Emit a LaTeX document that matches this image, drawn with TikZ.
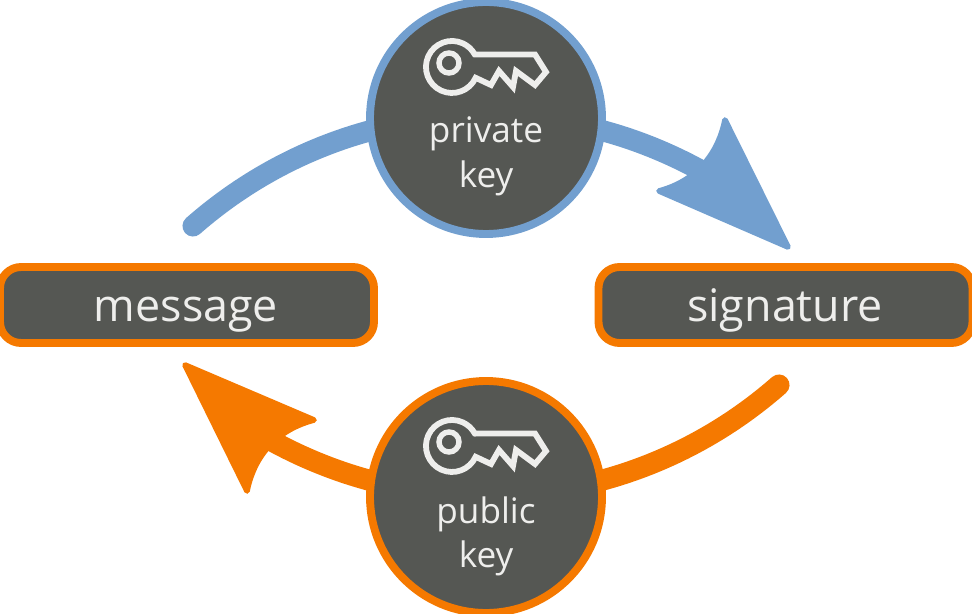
\documentclass[tikz,border=0pt]{standalone}
\usepackage{fontspec}
\setmainfont{Open Sans}
\usetikzlibrary{calc}
\definecolor{keyblue}{HTML}{729FCF}
\definecolor{keyorange}{HTML}{F57900}
\definecolor{slab}{HTML}{555753}
\definecolor{paper}{HTML}{EEEEEC}
\tikzset{
	x=0.02cm, y=-0.02cm,
	keydisc/.style={circle, fill=slab, line width=4.5pt, minimum size=232*0.02cm, inner sep=0pt},
	msgbox/.style={rectangle, rounded corners=12pt, fill=slab, draw=keyorange, line width=4.5pt, minimum width=374*0.02cm, minimum height=76*0.02cm, inner sep=0pt},
	msgtext/.style={text=paper, font=\fontsize{25.5}{25.5}\selectfont, inner sep=0pt, anchor=base},
	keytext/.style={text=paper, font=\fontsize{20}{20}\selectfont, inner sep=0pt, anchor=base},
	stem/.style={line width=12pt, line cap=round},
	head/.style={line width=3.2pt, line join=round}
}
\newcommand{\keyicon}[2]{
	\begin{scope}[shift={(#1, #2)}]
		\draw[paper, line width=3.3pt, line join=miter] (22.9, -12.4) -- (83, -12.5) -- (94, 5) -- (83, 18) -- (64, 4) -- (61, 20) -- (47, 4) -- (39, 18) -- (23.6, 10.8) arc (24.6:331.5:26) -- cycle;
		\draw[paper, line width=3.1pt] (-3, -4) circle (10);
	\end{scope}
}
\begin{document}
\begin{tikzpicture}
	%%%%% START %%%%%
	\useasboundingbox (0, 0) rectangle (972, 614);
	
	\coordinate (bluestart) at (193, 226);
	\coordinate (blueend) at (700, 170);
	\coordinate (orangestart) at (779, 385);
	\coordinate (orangeend) at (272, 441);
	
	\draw[stem, keyblue] (bluestart) to[bend left=35, looseness=0.94] (blueend);
	\draw[stem, keyorange] (orangestart) to[bend left=35, looseness=0.94] (orangeend);
	
	\draw[head, keyblue, fill=keyblue] (725, 120) .. controls (719, 150) and (700, 180) .. (659, 191) -- (788, 247) -- cycle;
	\draw[head, keyorange, fill=keyorange] (247, 491) .. controls (253, 461) and (272, 431) .. (314, 420) -- (185, 365) -- cycle;
	
	\node[keydisc, draw=keyblue] (privatedisc) at (486, 118) {};
	\node[keydisc, draw=keyorange] (publicdisc) at (486, 497) {};
	
	\keyicon{452}{67}
	\keyicon{452}{446}
	
	\node[keytext] (privatetop) at (486, 143) {private};
	\node[keytext] (privatekey) at (486, 188) {key};
	\node[keytext] (publictop) at (486, 523) {public};
	\node[keytext] (publickey) at (486, 567) {key};
	
	\node[msgbox] (message) at (187, 305) {};
	\node[msgbox] (signature) at (785.5, 305) {};
	\node[msgtext] (messagetext) at (186, 321) {message};
	\node[msgtext] (signaturetext) at (785, 321) {signature};
	
	%%%%% END %%%%%
\end{tikzpicture}
\end{document}
